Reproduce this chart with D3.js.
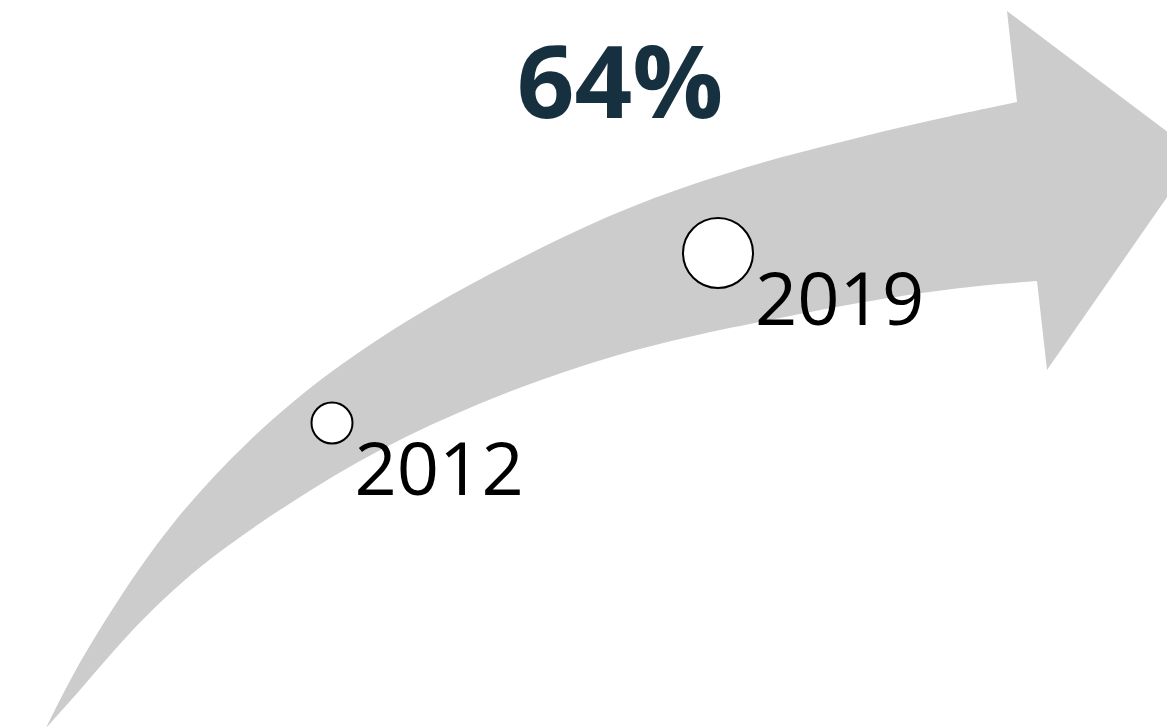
<!DOCTYPE html>
<html>
<head>
<meta charset="utf-8">
<script src="https://cdn.jsdelivr.net/npm/d3@7"></script>
<style>
  html, body { margin: 0; padding: 0; background: #fff; overflow: hidden; }
  svg { display: block; }
</style>
</head>
<body>
<div id="chart"></div>
<script>
/* Flecha de crecimiento 2012 → 2019 con titular porcentual. */
const years        = [2012, 2019];
const yearLabels   = ['2012', '2019'];
const markerValues = [100, 164];   // índice, 2012 = 100
const headline     = '64%';

(function () {
  const W = 1167, H = 727;

  // contorno de la flecha (geometría decorativa, no datos)
  const ARROW_UPPER = [[46,728],[73,673],[113,607],[170,523],[247,440],[330,370],[430,305],
                       [530,253],[613,213],[697,182],[780,157],[860,137],[940,118],[1017,102]];
  const ARROW_HEAD  = [[1007,11],[1197,154],[1047,370],[1037,281]];
  const ARROW_LOWER = [[1037,281],[960,287],[860,302],[760,322],[680,338],[580,365],[480,402],
                       [380,448],[290,502],[197,566],[130,631],[84,686],[46,728]];

  const svg = d3.select('#chart').append('svg')
    .attr('width', W).attr('height', H).attr('viewBox', `0 0 ${W} ${H}`);

  // B-spline: suaviza el ruido de la lectura de los bordes
  const curve = d3.line().curve(d3.curveBasis);
  const upper = curve(ARROW_UPPER);
  const head  = ARROW_HEAD.map(p => 'L' + p[0] + ',' + p[1]).join('');
  const lower = curve(ARROW_LOWER).replace(/^M/, 'L');

  svg.append('path')
    .attr('d', upper + head + lower + 'Z')
    .attr('fill', '#cccccc');

  // escalas: año → posición sobre la flecha, valor → radio
  const x = d3.scaleLinear().domain([2012, 2019]).range([332, 718]);
  const y = d3.scaleLinear().domain([2012, 2019]).range([423, 253]);
  const r = d3.scaleLinear().domain([100, 164]).range([20.5, 35]);

  const pts = years.map((yr, i) => ({ yr, label: yearLabels[i], v: markerValues[i] }));

  const g = svg.append('g');
  g.selectAll('circle.marker').data(pts).enter()
    .append('circle')
    .attr('class', 'marker')
    .attr('cx', d => x(d.yr))
    .attr('cy', d => y(d.yr))
    .attr('r', d => r(d.v))
    .attr('fill', '#ffffff')
    .attr('stroke', '#000000')
    .attr('stroke-width', 2);

  g.selectAll('text.year').data(pts).enter()
    .append('text')
    .attr('class', 'year')
    .attr('x', d => x(d.yr) + r(d.v) + 2)
    .attr('y', d => y(d.yr) + 72)
    .attr('font-family', '"Open Sans", sans-serif')
    .attr('font-size', 74)
    .attr('fill', '#000000')
    .text(d => d.label);

  svg.append('text')
    .attr('x', 620)
    .attr('y', 118)
    .attr('text-anchor', 'middle')
    .attr('font-family', '"Open Sans", sans-serif')
    .attr('font-weight', 700)
    .attr('font-size', 101)
    .attr('fill', '#16303f')
    .text(headline);
})();
</script>
</body>
</html>
